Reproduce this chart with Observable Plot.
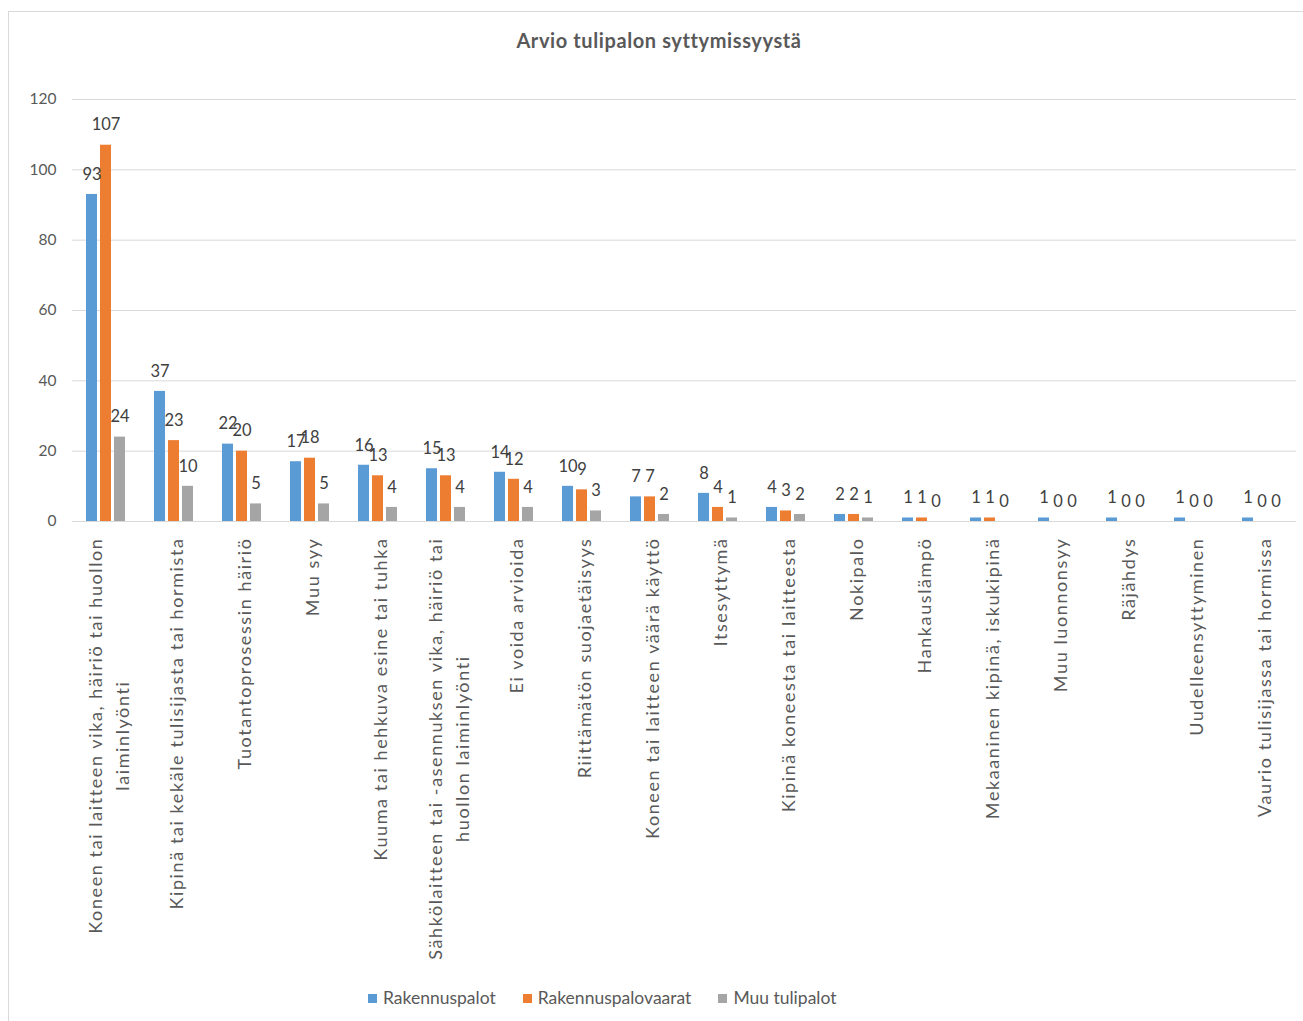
<!DOCTYPE html>
<html>
<head>
<meta charset="utf-8">
<script src="https://cdn.jsdelivr.net/npm/d3@7"></script>
<script src="https://cdn.jsdelivr.net/npm/@observablehq/plot@0.6"></script>
<style>
  html, body { margin: 0; padding: 0; background: #fff; }
  body { width: 1303px; height: 1021px; overflow: hidden; position: relative; font-family: Lato, "Open Sans", sans-serif; }
  #frame { position: absolute; left: 8px; top: 11px; width: 1310px; height: 1040px; border: 1px solid #d9d9d9; box-sizing: border-box; }
  #title { position: absolute; left: 0; width: 1318px; top: 29px; text-align: center; font-weight: bold; font-size: 20px; letter-spacing: 0.6px; color: #595959; line-height: 22px; }
  #chart { position: absolute; left: 0; top: 80px; }
  #legend { position: absolute; left: 368px; top: 986px; display: flex; align-items: center; font-size: 17.5px; color: #595959; line-height: 24px; }
  #legend .item { display: flex; align-items: center; margin-right: 27px; }
  #legend .sw { width: 9px; height: 9px; margin-right: 6px; }
  g[aria-label="fx-axis tick label"] { letter-spacing: 1.6px; }
</style>
</head>
<body>
<div id="frame"></div>
<div id="title">Arvio tulipalon syttymissyystä</div>
<div id="chart"></div>
<div id="legend"></div>
<script>
const categories = [
  "Koneen tai laitteen vika, häiriö tai huollon\nlaiminlyönti",
  "Kipinä tai kekäle tulisijasta tai hormista",
  "Tuotantoprosessin häiriö",
  "Muu syy",
  "Kuuma tai hehkuva esine tai tuhka",
  "Sähkölaitteen tai -asennuksen vika, häiriö tai\nhuollon laiminlyönti",
  "Ei voida arvioida",
  "Riittämätön suojaetäisyys",
  "Koneen tai laitteen väärä käyttö",
  "Itsesyttymä",
  "Kipinä koneesta tai laitteesta",
  "Nokipalo",
  "Hankauslämpö",
  "Mekaaninen kipinä, iskukipinä",
  "Muu luonnonsyy",
  "Räjähdys",
  "Uudelleensyttyminen",
  "Vaurio tulisijassa tai hormissa"
];
const series = ["Rakennuspalot", "Rakennuspalovaarat", "Muu tulipalot"];
const rakennuspalot      = [93, 37, 22, 17, 16, 15, 14, 10, 7, 8, 4, 2, 1, 1, 1, 1, 1, 1];
const rakennuspalovaarat = [107, 23, 20, 18, 13, 13, 12, 9, 7, 4, 3, 2, 1, 1, 0, 0, 0, 0];
const muuTulipalot       = [24, 10, 5, 5, 4, 4, 4, 3, 2, 1, 2, 1, 0, 0, 0, 0, 0, 0];
const yTicks = [0, 20, 40, 60, 80, 100, 120];
const colors = ["#5B9BD5", "#ED7D31", "#A5A5A5"];

const seriesValues = [rakennuspalot, rakennuspalovaarat, muuTulipalot];
const data = [];
categories.forEach((c, i) => {
  series.forEach((s, j) => data.push({category: c, series: s, value: seriesValues[j][i]}));
});

const chart = Plot.plot({
  width: 1303,
  height: 890,
  marginLeft: 71,
  marginRight: 7,
  marginTop: 19,
  marginBottom: 449,
  style: {fontFamily: "Lato, 'Open Sans', sans-serif", color: "#595959", background: "transparent", overflow: "visible"},
  fx: {domain: categories, padding: 0, label: null},
  x: {domain: series, paddingInner: 0.19, paddingOuter: 0.96, axis: null},
  y: {domain: [0, 120], label: null},
  color: {domain: series, range: colors},
  marks: [
    Plot.ruleY(yTicks, {stroke: "#d9d9d9", strokeWidth: 1}),
    Plot.barY(data, {fx: "category", x: "series", y: "value", fill: "series"}),
    Plot.text(data, {fx: "category", x: "series", y: "value", text: d => String(d.value), dy: -20, fontSize: 16.5, fill: "#404040"}),
    Plot.axisY({ticks: yTicks, tickSize: 0, tickPadding: 16, fontSize: 15.5, fill: "#595959", label: null}),
    Plot.axisFx({anchor: "bottom", tickRotate: -90, tickSize: 0, tickPadding: 16, fontSize: 18, textAnchor: "end", lineAnchor: "middle", lineHeight: 1.5, fill: "#595959", label: null})
  ]
});
document.getElementById("chart").append(chart);

// center continuation lines of wrapped category labels on their first line
chart.querySelectorAll('g[aria-label="fx-axis tick label"] text').forEach(t => {
  const sp = t.querySelectorAll("tspan");
  if (sp.length > 1) {
    const w0 = sp[0].getComputedTextLength();
    for (let i = 1; i < sp.length; i++) {
      const w = sp[i].getComputedTextLength();
      sp[i].setAttribute("x", -(w0 - w) / 2);
    }
  }
});

const legend = document.getElementById("legend");
series.forEach((s, i) => {
  const item = document.createElement("div");
  item.className = "item";
  const sw = document.createElement("div");
  sw.className = "sw";
  sw.style.background = colors[i];
  const lab = document.createElement("span");
  lab.textContent = s;
  item.append(sw, lab);
  legend.append(item);
});
</script>
</body>
</html>
